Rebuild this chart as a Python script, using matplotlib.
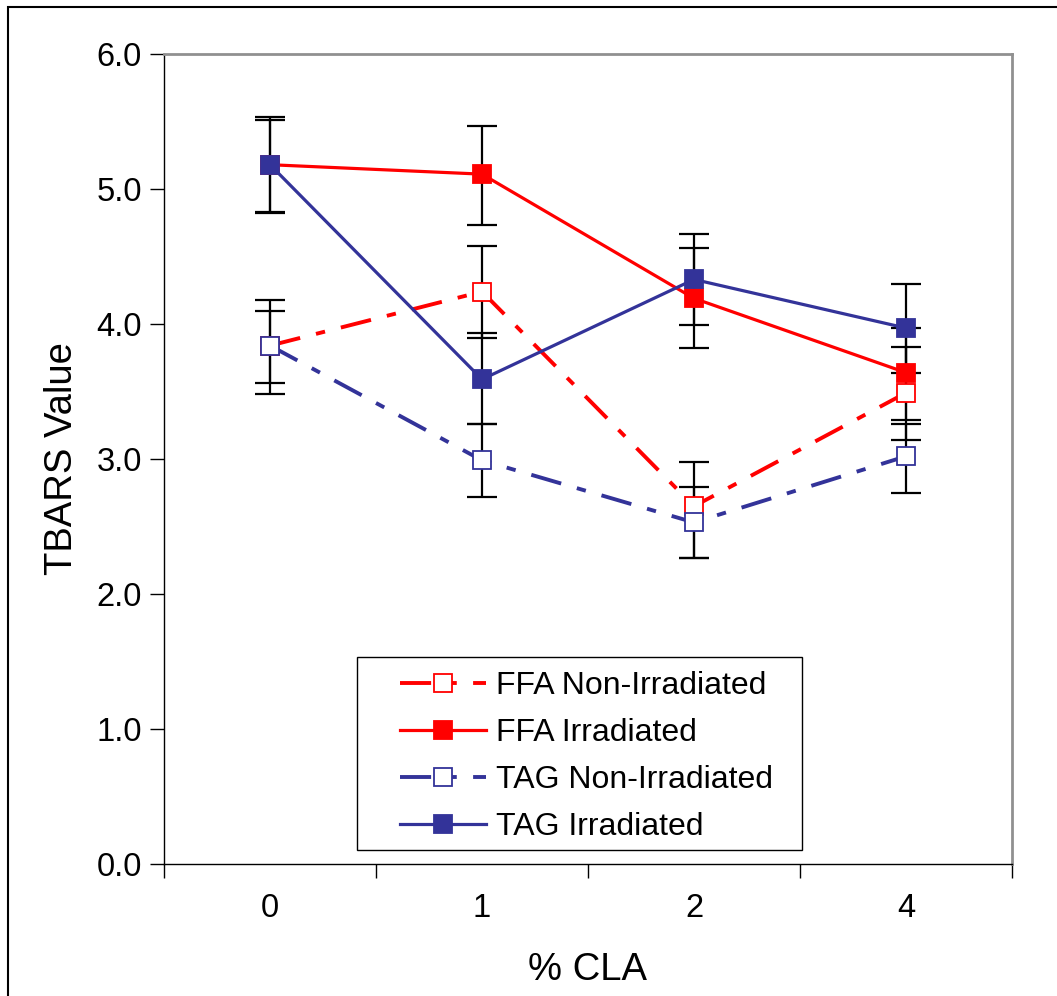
import matplotlib
matplotlib.use("Agg")
import matplotlib.pyplot as plt
from matplotlib.patches import Rectangle
import numpy as np

plt.rcParams['font.family'] = ['Liberation Sans', 'DejaVu Sans']

categories = ['0', '1', '2', '4']

ffa_non = [3.84, 4.24, 2.65, 3.49]
ffa_non_up = [0.34, 0.34, 0.33, 0.34]
ffa_non_dn = [0.36, 0.34, 0.38, 0.35]

ffa_irr = [5.18, 5.11, 4.19, 3.64]
ffa_irr_up = [0.35, 0.36, 0.37, 0.33]
ffa_irr_dn = [0.35, 0.38, 0.37, 0.35]

tag_non = [3.84, 2.99, 2.53, 3.02]
tag_non_up = [0.26, 0.27, 0.26, 0.24]
tag_non_dn = [0.28, 0.27, 0.26, 0.27]

tag_irr = [5.18, 3.59, 4.33, 3.97]
tag_irr_up = [0.33, 0.34, 0.34, 0.33]
tag_irr_dn = [0.36, 0.33, 0.34, 0.33]

labels = ['FFA Non-Irradiated', 'FFA Irradiated', 'TAG Non-Irradiated', 'TAG Irradiated']

RED = '#FF0000'
BLUE = '#333399'

W, H = 1057, 996
fig = plt.figure(figsize=(W/100, H/100), dpi=100)
ax = fig.add_axes([164/W, 1-864/H, (1012-164)/W, (864-54)/H])

x = np.arange(len(categories))
dash = (0, (8, 4.2, 2.4, 4.2))

series = [
    (ffa_non, ffa_non_dn, ffa_non_up, RED, 'white', dash, 2.8, labels[0]),
    (ffa_irr, ffa_irr_dn, ffa_irr_up, RED, RED, '-', 2.3, labels[1]),
    (tag_non, tag_non_dn, tag_non_up, BLUE, 'white', dash, 2.8, labels[2]),
    (tag_irr, tag_irr_dn, tag_irr_up, BLUE, BLUE, '-', 2.3, labels[3]),
]

handles = []
for vals, dn, up, col, fc, ls, lw, lab in series:
    ax.errorbar(x, vals, yerr=[dn, up], fmt='none', ecolor='black',
                elinewidth=1.6, capsize=11, capthick=1.6, zorder=2)
for vals, dn, up, col, fc, ls, lw, lab in series:
    h, = ax.plot(x, vals, color=col, linestyle=ls, linewidth=lw,
                 marker='s', markersize=13.5, markerfacecolor=fc,
                 markeredgecolor=col, markeredgewidth=1.3, label=lab, zorder=3)
    handles.append(h)

ax.set_xlim(-0.5, 3.5)
ax.set_ylim(0, 6)
yt = np.arange(0, 6.01, 1.0)
ax.set_yticks(yt)
ax.set_yticklabels([f'{v:.1f}' for v in yt])
ax.set_xticks(np.arange(-0.5, 3.6, 1.0))
ax.set_xticklabels([])
ax.set_xticks(x, minor=True)
ax.set_xticklabels(categories, minor=True)
ax.tick_params(axis='x', which='minor', length=0, pad=21, labelsize=23.5)
ax.tick_params(axis='x', which='major', length=10, width=1, direction='out', color='black')
ax.tick_params(axis='y', length=10, width=1, direction='out', pad=6, labelsize=23.5)

for s in ['left', 'bottom']:
    ax.spines[s].set_color('black')
    ax.spines[s].set_linewidth(1.0)
for s in ['top', 'right']:
    ax.spines[s].set_color('#909090')
    ax.spines[s].set_linewidth(2.0)

ax.set_ylabel('TBARS Value', fontsize=27.5, labelpad=12)
ax.set_xlabel('% CLA', fontsize=27.5, labelpad=20)

leg = ax.legend(handles=handles, loc='upper left',
                bbox_to_anchor=(400/W, 1-671/H), bbox_transform=fig.transFigure,
                fontsize=23, frameon=False, handlelength=2.7, handletextpad=0.3,
                labelspacing=0.53, borderaxespad=0, borderpad=0)

ax.add_patch(Rectangle((357/W, 1-850/H), (802-357)/W, (850-657)/H,
                       transform=fig.transFigure, fill=False, edgecolor='black',
                       linewidth=1.0, zorder=5))

fig.patches.append(Rectangle((8/W, -0.1), 1.2, 1 - 7/H + 0.1,
                             transform=fig.transFigure, fill=False,
                             edgecolor='black', linewidth=1.5, zorder=10))

fig.savefig('out.png', dpi=100)
